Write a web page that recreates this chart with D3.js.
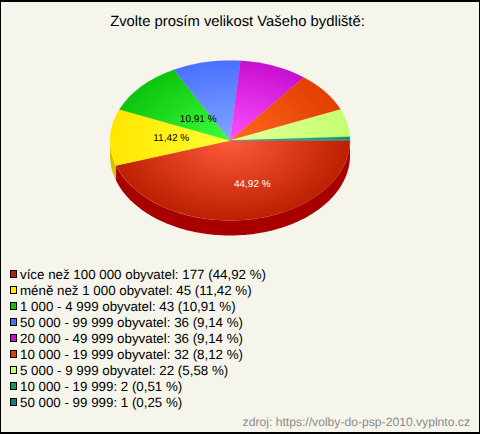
<!DOCTYPE html>
<html><head><meta charset="utf-8">
<script src="https://cdnjs.cloudflare.com/ajax/libs/d3/7.8.5/d3.min.js"></script>
<style>
html,body{margin:0;padding:0;background:#fff}
svg{display:block}
text{font-family:"Liberation Sans",Arial,sans-serif;text-rendering:geometricPrecision}
</style></head><body>
<svg id="c" width="480" height="434"></svg>
<script>
const titleText = "Zvolte prosím velikost Vašeho bydliště:";
const sourceText = "zdroj: https://volby-do-psp-2010.vyplnto.cz";
const categories = ["více než 100 000 obyvatel","méně než 1 000 obyvatel","1 000 - 4 999 obyvatel","50 000 - 99 999 obyvatel","20 000 - 49 999 obyvatel","10 000 - 19 999 obyvatel","5 000 - 9 999 obyvatel","10 000 - 19 999","50 000 - 99 999"];
const counts = [177,45,43,36,36,32,22,2,1];
const percents = ["44,92","11,42","10,91","9,14","9,14","8,12","5,58","0,51","0,25"];
const baseColors = ["#bb2000","#ffe600","#0cc40c","#4a70ff","#c60fd0","#e23e00","#c4ff70","#109a5c","#1a7a8a"];
const lightColors = ["#ff5a3c","#ffff33","#3cff3c","#80a8ff","#ff50ff","#ff6a20","#e6ff9e","#30b070","#2a90a0"];
const sideColors = ["#a80000","#d8c000","#0a9a0a","#3a58c8","#9a0ca0","#b03000","#98c858","#0c7a48","#145f6c"];
const labelInk = ["#fff","#000","#000",null,null,null,null,null,null];
const labelNudge = [[12,0],[6,-2],[16,7]];

const W=480,H=434,cx=230,cy=140.5,rx=120,ry=80,depth=15;
const svg=d3.select("#c");
svg.append("rect").attr("x",0.5).attr("y",1).attr("width",W-1).attr("height",H-1.5)
  .attr("fill","#f5f5ec").attr("stroke","#000").attr("stroke-width",1);
svg.append("rect").attr("x",0).attr("y",0).attr("width",W).attr("height",2).attr("fill","#000");
svg.append("rect").attr("x",0).attr("y",H-2).attr("width",W).attr("height",2).attr("fill","#000");

svg.append("text").attr("x",237.5).attr("y",25.5).attr("text-anchor","middle")
  .attr("font-size",14.8).attr("fill","#000").text(titleText);

const pie=d3.pie().sort(null).value(d=>d).startAngle(Math.PI/2).endAngle(Math.PI/2+2*Math.PI);
const arcs=pie(counts);
const arc=d3.arc().innerRadius(0).outerRadius(rx);
// d3 angles run clockwise from 12 o'clock
const px=a=>cx+rx*Math.sin(a), py=a=>cy-ry*Math.cos(a);

const defs=svg.append("defs");
arcs.forEach((d,i)=>{
  const g=defs.append("radialGradient").attr("id","g"+i).attr("gradientUnits","userSpaceOnUse")
    .attr("cx",0).attr("cy",0).attr("r",rx);
  g.append("stop").attr("offset",0).attr("stop-color",lightColors[i]);
  g.append("stop").attr("offset",1).attr("stop-color",baseColors[i]);
});

// side wall: front-facing part of each slice
const wall=svg.append("g");
const area=d3.area().x(a=>px(a)).y0(a=>py(a)).y1(a=>py(a)+depth);
arcs.forEach((d,i)=>{
  const a0=Math.max(d.startAngle,Math.PI/2), a1=Math.min(d.endAngle,3*Math.PI/2);
  if(a1<=a0) return;
  const n=Math.max(2,Math.ceil((a1-a0)/0.02));
  const angles=d3.range(n+1).map(k=>a0+(a1-a0)*k/n);
  wall.append("path").attr("d",area(angles)).attr("fill",sideColors[i]);
});

// top face, an ellipse obtained by squashing the circular arcs
const topFace=svg.append("g").attr("transform",`translate(${cx},${cy}) scale(1,${ry/rx})`);
topFace.selectAll("path").data(arcs).join("path")
  .attr("d",arc).attr("fill",(d,i)=>`url(#g${i})`)
  .attr("stroke",(d,i)=>`url(#g${i})`).attr("stroke-width",0.3);

// slice labels
const labelK=0.54;
arcs.forEach((d,i)=>{
  if(!labelInk[i]) return;
  const m=(d.startAngle+d.endAngle)/2;
  svg.append("text")
    .attr("x",cx+labelK*(px(m)-cx)+labelNudge[i][0])
    .attr("y",cy+labelK*(py(m)-cy)+labelNudge[i][1]+4)
    .attr("text-anchor","middle").attr("font-size",10).attr("fill",labelInk[i])
    .text(percents[i]+" %");
});

// legend
const rowY=d3.scalePoint().domain(d3.range(categories.length)).range([274,402]);
const leg=svg.append("g").selectAll("g").data(categories).join("g")
  .attr("transform",(d,i)=>`translate(0,${rowY(i)})`);
leg.append("rect").attr("x",10.5).attr("y",-3.5).attr("width",6).attr("height",7)
  .attr("fill",(d,i)=>baseColors[i]).attr("stroke","#000").attr("stroke-width",1);
leg.append("text").attr("x",20).attr("y",5).attr("font-size",13.33).attr("fill","#000")
  .text((d,i)=>`${d}: ${counts[i]} (${percents[i]} %)`);

svg.append("text").attr("x",470).attr("y",426).attr("text-anchor","end")
  .attr("font-size",12.15).attr("fill","#8c8c8c").text(sourceText);
</script>
</body></html>
